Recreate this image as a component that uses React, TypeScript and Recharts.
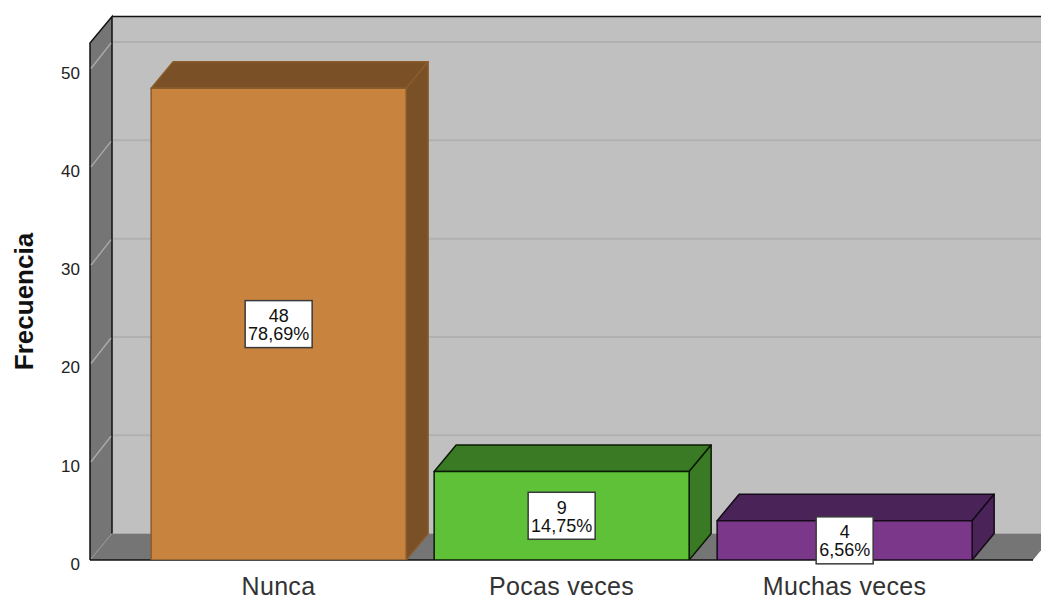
import React from "react";
import { Bar, BarChart, LabelList, ReferenceArea, ReferenceLine, XAxis, YAxis } from "recharts";

const categories = ["Nunca", "Pocas veces", "Muchas veces"];
const counts = [48, 9, 4];
const percents = ["78,69%", "14,75%", "6,56%"];
const yTicks = [0, 10, 20, 30, 40, 50];
const gridValues = [10, 20, 30, 40, 50];
const Y_MAX = 52.6;

const FRONT_COLORS = ["#C8843E", "#5FC138", "#7B388B"];
const DARK_COLORS = ["#7A5026", "#3A7A24", "#4A2358"];
const EDGE_COLORS = ["#8A5C2C", "#0A1A05", "#140A18"];

// 3D depth of the SPSS style box
const DX = 22;
const DY = -26.5;
const X_PAD = 47;

const data = categories.map((name, i) => ({ name, count: counts[i], percent: percents[i] }));

const Walls = (props: any) => {
  const { y, height } = props;
  // the reference area starts after the axis padding
  const x = props.x - X_PAD;
  const width = props.width + X_PAD * 2;
  const bottom = y + height;
  const right = x + width;
  return (
    <g>
      <rect x={x + DX} y={y + DY} width={width} height={height} fill="#C0C0C0" />
      <polygon
        points={`${x},${bottom} ${x + DX},${bottom + DY} ${right + DX},${bottom + DY} ${right},${bottom}`}
        fill="#757575"
      />
      <polygon
        points={`${x},${y} ${x + DX},${y + DY} ${x + DX},${bottom + DY} ${x},${bottom}`}
        fill="#757575"
      />
      <line x1={x + 1} y1={bottom - 1} x2={x + DX} y2={bottom + DY} stroke="#9A9A9A" />
      <polyline
        points={`${x},${bottom} ${x},${y} ${x + DX},${y + DY} ${x + DX},${bottom + DY}`}
        fill="none"
        stroke="#111"
        strokeWidth={1.5}
      />
      <line x1={x + DX} y1={y + DY} x2={right + DX} y2={y + DY} stroke="#111" strokeWidth={1.5} />
      <line x1={x} y1={bottom} x2={right} y2={bottom} stroke="#111" strokeWidth={1.5} />
    </g>
  );
};

const GridLine = (props: any) => {
  const { x1, y1, x2, y2 } = props;
  return (
    <g>
      <line x1={x1 + 1} y1={y1} x2={x1 + DX - 1} y2={y1 + DY + 1} stroke="#A8A8A8" strokeWidth={1.5} />
      <line x1={x1 + DX + 1} y1={y1 + DY} x2={x2 + DX} y2={y2 + DY} stroke="#B0B0B0" strokeWidth={2} />
    </g>
  );
};

const Box3D = (props: any) => {
  const { x, y, width, height, index } = props;
  const edge = EDGE_COLORS[index];
  return (
    <g stroke={edge} strokeWidth={1.5} strokeLinejoin="round">
      <polygon
        points={`${x},${y} ${x + DX},${y + DY} ${x + width + DX},${y + DY} ${x + width},${y}`}
        fill={DARK_COLORS[index]}
      />
      <polygon
        points={`${x + width},${y} ${x + width + DX},${y + DY} ${x + width + DX},${y + height + DY} ${x + width},${y + height}`}
        fill={DARK_COLORS[index]}
      />
      <rect x={x} y={y} width={width} height={height} fill={FRONT_COLORS[index]} />
    </g>
  );
};

const BoxLabel = (props: any) => {
  const { x, y, width, height, index } = props;
  const cx = x + width / 2;
  const cy = y + height / 2;
  const text = percents[index];
  const boxW = text.length > 5 ? 67 : 57;
  return (
    <g>
      <rect x={cx - boxW / 2} y={cy - 23.5} width={boxW} height={47} fill="#fff" stroke="#3A3A3A" strokeWidth={1.5} />
      <text x={cx} y={cy - 2} textAnchor="middle" fontFamily="Liberation Sans" fontSize={18} fill="#111">
        {counts[index]}
      </text>
      <text x={cx} y={cy + 16} textAnchor="middle" fontFamily="Liberation Sans" fontSize={18} fill="#111">
        {text}
      </text>
    </g>
  );
};

const App = () => (
  <div style={{ position: "absolute", left: 0, top: 0, width: 1041, height: 599, background: "#fff" }}>
    <BarChart
      width={1041}
      height={599}
      data={data}
      barCategoryGap="5%"
      margin={{ top: 43, right: 8, bottom: 9, left: 0 }}
    >
      <XAxis
        dataKey="name"
        height={30}
        axisLine={false}
        tickLine={false}
        padding={{ left: X_PAD, right: X_PAD }}
        tickMargin={11}
        tick={{ fontFamily: "Liberation Sans", fontSize: 25, fill: "#333", letterSpacing: 0.3 }}
      />
      <YAxis
        width={90}
        domain={[0, Y_MAX]}
        ticks={yTicks}
        allowDataOverflow
        axisLine={false}
        tickLine={false}
        tickMargin={4}
        tick={{ fontFamily: "Liberation Sans", fontSize: 17, fill: "#222", dy: 4 }}
        label={{
          value: "Frecuencia",
          angle: -90,
          position: "insideLeft",
          offset: 24,
          style: { fontFamily: "Liberation Sans", fontSize: 26, fontWeight: "bold", fill: "#111", textAnchor: "middle" },
        }}
      />
      <ReferenceArea y1={0} y2={Y_MAX} shape={Walls} zIndex={50} />
      {gridValues.map((v) => (
        <ReferenceLine key={v} y={v} shape={GridLine} zIndex={60} />
      ))}
      <Bar dataKey="count" isAnimationActive={false} shape={Box3D}>
        <LabelList dataKey="count" content={BoxLabel} />
      </Bar>
    </BarChart>
  </div>
);

export default App;
